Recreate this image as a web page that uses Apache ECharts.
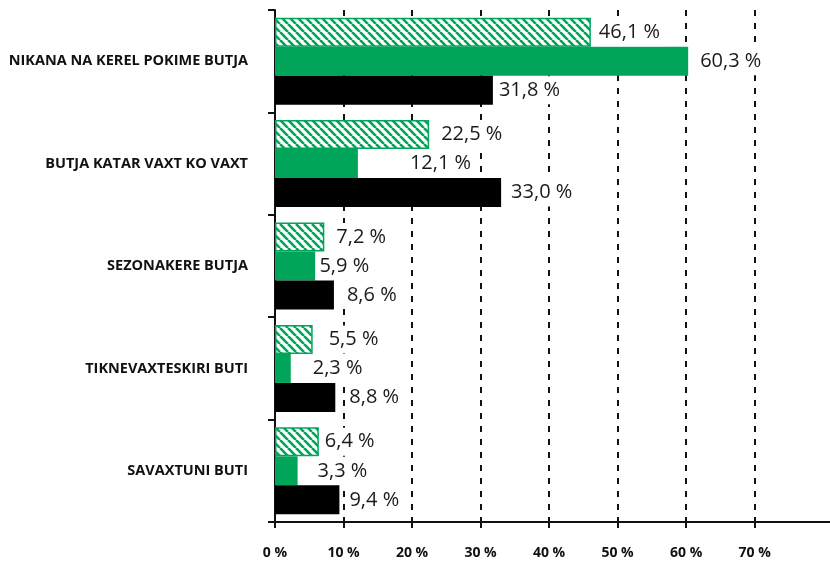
<!DOCTYPE html>
<html>
<head>
<meta charset="utf-8">
<script src="https://cdn.jsdelivr.net/npm/echarts@6/dist/echarts.min.js"></script>
<style>html,body{margin:0;padding:0;background:#fff;}#c{width:830px;height:563px;}</style>
</head>
<body>
<div id="c"></div>
<script>
const categories = ['NIKANA NA KEREL POKIME BUTJA', 'BUTJA KATAR VAXT KO VAXT', 'SEZONAKERE BUTJA', 'TIKNEVAXTESKIRI BUTI', 'SAVAXTUNI BUTI'];
const hatchedValues = [46.1, 22.5, 7.2, 5.5, 6.4];
const greenValues = [60.3, 12.1, 5.9, 2.3, 3.3];
const blackValues = [31.8, 33.0, 8.6, 8.8, 9.4];
const tickValues = [0, 10, 20, 30, 40, 50, 60, 70];
const gridValues = [10, 20, 30, 40, 50, 60, 70];

const GREEN = '#00a55a';

// extra label spacing (pixels) as in the original layout
const labelGap = {
  hatched: [8, 12, 12, 16, 6],
  green: [12, 52, 4, 22, 20],
  black: [6, 10, 13, 14, 10]
};

function hatchPattern() {
  const c = document.createElement('canvas');
  c.width = 8; c.height = 8;
  const ctx = c.getContext('2d');
  ctx.fillStyle = '#fff';
  ctx.fillRect(0, 0, 8, 8);
  ctx.strokeStyle = GREEN;
  ctx.lineWidth = 2.6;
  for (const k of [-8, 0, 8]) {
    ctx.beginPath();
    ctx.moveTo(k, 0);
    ctx.lineTo(k + 8, 8);
    ctx.stroke();
  }
  return c;
}

const fmt = v => v.toFixed(1).replace('.', ',') + ' %';
function labelFor(gap, i) {
  return {
    show: true,
    position: 'right',
    distance: Math.max(0, gap[i] - 4),
    formatter: p => fmt(p.value),
    fontFamily: 'Open Sans',
    fontSize: 20,
    color: '#1a1a1a',
    backgroundColor: '#fff',
    padding: [4, 6, 4, 4]
  };
}
const items = (vals, gap) => vals.map((v, i) => ({value: v, label: labelFor(gap, i)}));

const chart = echarts.init(document.getElementById('c'), null, {renderer: 'canvas'});
chart.setOption({
  animation: false,
  grid: {left: 275, right: 0, top: 10, bottom: 41, containLabel: false},
  xAxis: {
    type: 'value', min: 0, max: 81, interval: 10,
    axisLine: {show: true, lineStyle: {color: '#111', width: 2}},
    axisTick: {show: true, customValues: tickValues, length: 6, lineStyle: {color: '#111', width: 2}},
    axisLabel: {customValues: tickValues, formatter: v => v + ' %', margin: 24, fontFamily: 'Open Sans', fontWeight: 'bold', fontSize: 14, color: '#111'},
    splitLine: {show: false}
  },
  yAxis: {
    type: 'category', data: categories, inverse: true,
    axisLine: {show: true, lineStyle: {color: '#111', width: 2}},
    axisTick: {show: true, length: 7, lineStyle: {color: '#111', width: 2}},
    axisLabel: {margin: 27, fontFamily: 'Open Sans', fontWeight: 'bold', fontSize: 14.5, color: '#111'}
  },
  series: [
    {
      name: 'hatched', type: 'bar', data: items(hatchedValues, labelGap.hatched), barGap: 0, barCategoryGap: '15%',
      itemStyle: {color: {image: hatchPattern(), repeat: 'repeat'}, borderColor: GREEN, borderWidth: 1.5},
      markLine: {
        silent: true, symbol: 'none', label: {show: false}, z: 1,
        lineStyle: {color: '#111', type: [6, 7], width: 2},
        data: gridValues.map(v => ({xAxis: v}))
      },
      z: 3
    },
    {
      name: 'green', type: 'bar', data: items(greenValues, labelGap.green), barGap: 0, barCategoryGap: '15%',
      itemStyle: {color: GREEN}, z: 3
    },
    {
      name: 'black', type: 'bar', data: items(blackValues, labelGap.black), barGap: 0, barCategoryGap: '15%',
      itemStyle: {color: '#000'}, z: 3
    }
  ]
});
</script>
</body>
</html>
